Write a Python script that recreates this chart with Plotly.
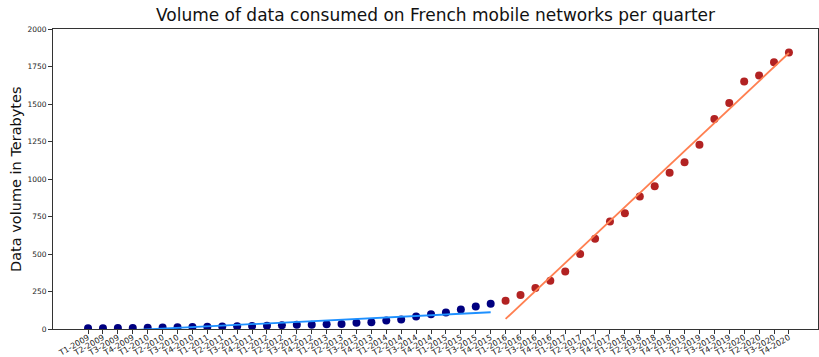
import numpy as np
import plotly.graph_objects as go

# Quarter labels, T1-2009 .. T4-2020
quarters = [f"T{q}-{y}" for y in range(2009, 2021) for q in range(1, 5)]

# Data volume per quarter in terabytes
volume_early = [5, 5, 6, 6, 9, 10, 11, 14, 15, 17, 19, 20, 22, 25,
                29, 29, 32, 34, 41, 45, 56, 63, 83, 99, 110, 130, 150, 168]
volume_late = [188, 226, 273, 322, 384, 500, 602, 716, 771, 883,
               952, 1041, 1112, 1229, 1400, 1507, 1650, 1690, 1779, 1844]

n_early = len(volume_early)
labels_early = quarters[:n_early]
labels_late = quarters[n_early:n_early + len(volume_late)]
idx_early = np.arange(n_early)
idx_late = np.arange(n_early, n_early + len(volume_late))

# Linear trend for each period
fit_early = np.polyval(np.polyfit(idx_early, volume_early, 1), idx_early)
fit_late = np.polyval(np.polyfit(idx_late, volume_late, 1), idx_late)

fig = go.Figure()
fig.add_trace(go.Scatter(x=labels_early, y=volume_early, mode="markers",
                         marker=dict(color="#000080", size=8), cliponaxis=True))
fig.add_trace(go.Scatter(x=labels_late, y=volume_late, mode="markers",
                         marker=dict(color="#B22222", size=8), cliponaxis=True))
fig.add_trace(go.Scatter(x=labels_early, y=fit_early, mode="lines",
                         line=dict(color="#1E90FF", width=1.8)))
fig.add_trace(go.Scatter(x=labels_late, y=fit_late, mode="lines",
                         line=dict(color="#FF7F50", width=1.8)))

axis_common = dict(showline=True, linecolor="#333333", linewidth=1, mirror=True,
                   ticks="outside", ticklen=4, tickcolor="#333333",
                   showgrid=False, zeroline=False, automargin=False)

left, right, top, bottom = 53, 1, 29, 28
plot_w = 819 - left - right

fig.update_layout(
    width=819, height=357,
    margin=dict(l=left, r=right, t=top, b=bottom),
    paper_bgcolor="white", plot_bgcolor="white",
    showlegend=False,
    font=dict(family="DejaVu Sans", color="#111111"),
    title=dict(text="Volume of data consumed on French mobile networks per quarter",
               x=(53 + 818) / 2 / 819, xanchor="center", y=1 - 15 / 357, yanchor="middle",
               font=dict(family="DejaVu Sans", size=17, color="#111111")),
    xaxis=dict(type="category", categoryorder="array", categoryarray=quarters,
               tickmode="array", tickvals=quarters, ticktext=quarters,
               tickangle=-30, range=[-2.35, 48.95], ticklabelstandoff=-4,
               tickfont=dict(family="DejaVu Sans", size=8, color="#222222"),
               **axis_common),
    yaxis=dict(range=[0, 2000], tickvals=[0, 250, 500, 750, 1000, 1250, 1500, 1750, 2000],
               tickfont=dict(family="DejaVu Sans", size=7.5, color="#222222"),
               **axis_common),
    annotations=[dict(text="Data volume in Terabytes", textangle=-90,
                      xref="paper", yref="paper", x=(16 - left) / plot_w, y=0.5,
                      xanchor="center", yanchor="middle", showarrow=False,
                      font=dict(family="DejaVu Sans", size=14.5, color="#111111"))],
)

fig.write_html("out.html")
